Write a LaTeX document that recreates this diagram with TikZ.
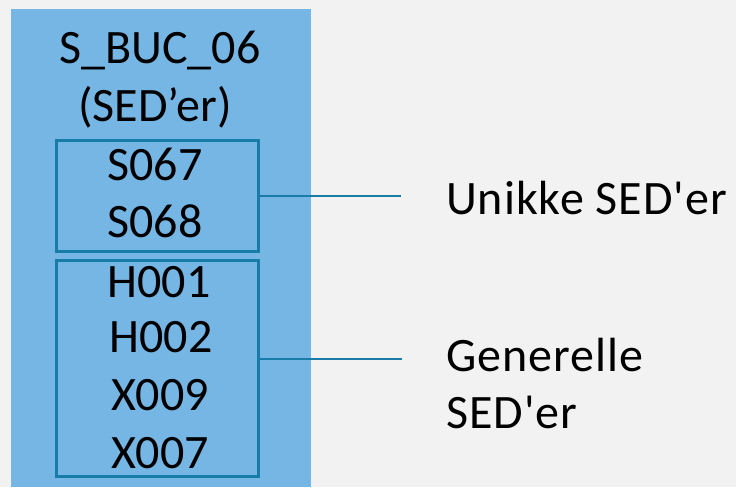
\documentclass[tikz,border=0pt]{standalone}
\usepackage{fontspec}
\setmainfont{Carlito}[Ligatures=TeXOff]
\newfontfamily\spaced{Carlito}[Ligatures=TeXOff,LetterSpace=2]
\definecolor{bgcol}{RGB}{242,242,242}
\definecolor{colfill}{RGB}{118,182,228}
\definecolor{linecol}{RGB}{23,124,168}
\begin{document}
\begin{tikzpicture}[x=0.75pt,y=-0.75pt,
  txt/.style={font=\fontsize{36}{43}\selectfont, anchor=base, inner sep=0pt},
  rtxt/.style={font=\spaced\fontsize{36}{43}\selectfont, anchor=base west, inner sep=0pt},
  sedbox/.style={draw=linecol, line width=2.2pt, inner sep=0pt},
  conn/.style={draw=linecol, line width=2.2pt}]
\fill[bgcol] (0,0) rectangle (736,487);
\useasboundingbox (0,0) rectangle (736,487);
\node[fill=colfill, inner sep=0pt, minimum width=300*0.75pt, minimum height=478*0.75pt, anchor=north west] (col) at (11,9) {};
\node[txt] (title1) at (160,63) {S\_BUC\_06};
\node[txt] (title2) at (155,121) {(SED’er)};
\node[sedbox, minimum width=202*0.75pt, minimum height=111*0.75pt, anchor=north west] (box1) at (55,139) {};
\node[sedbox, minimum width=202*0.75pt, minimum height=216*0.75pt, anchor=north west] (box2) at (55,259) {};
\node[txt] (s067) at (155,180) {S067};
\node[txt] (s068) at (155,237) {S068};
\node[txt] (h001) at (159,297) {H001};
\node[txt] (h002) at (161,352) {H002};
\node[txt] (x009) at (160,410) {X009};
\node[txt] (x007) at (160,468) {X007};
\coordinate (e1) at (401,196);
\coordinate (e2) at (402,359);
\node[rtxt] (unikke) at (446,214) {Unikke SED'er};
\node[rtxt] (gen1) at (446,371) {Generelle};
\node[rtxt] (gen2) at (446,428) {SED'er};
\draw[conn] (box1.east |- e1) -- (e1);
\draw[conn] (box2.east |- e2) -- (e2);
\end{tikzpicture}
\end{document}
